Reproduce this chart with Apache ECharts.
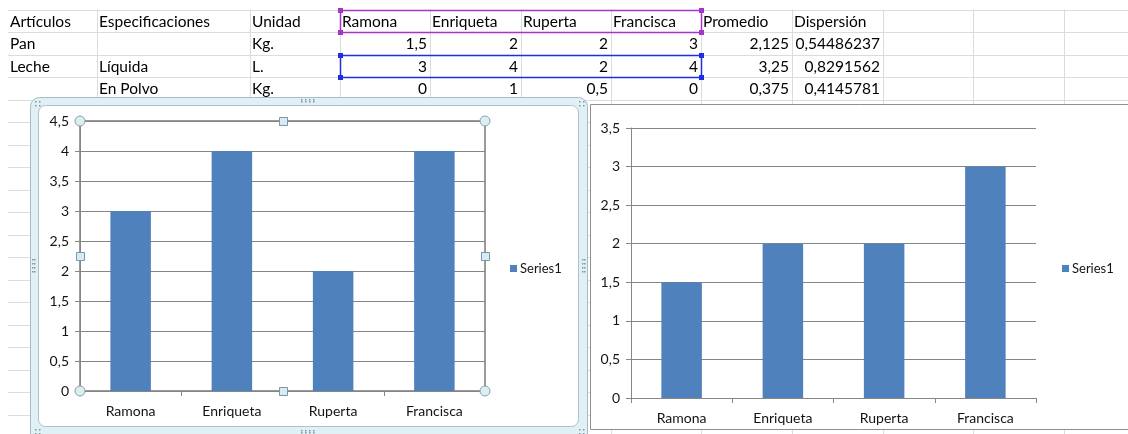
<!DOCTYPE html>
<html>
<head>
<meta charset="utf-8">
<script src="https://cdn.jsdelivr.net/npm/echarts@6/dist/echarts.min.js"></script>
<style>
  html, body { margin: 0; padding: 0; background: #ffffff; }
  #c { width: 1128px; height: 434px; }
</style>
</head>
<body>
<div id="c"></div>
<script>
// ---- Sheet contents ----
const headers = ['Artículos', 'Especificaciones', 'Unidad', 'Ramona', 'Enriqueta', 'Ruperta', 'Francisca', 'Promedio', 'Dispersión'];
const articulos = ['Pan', 'Leche', ''];
const especificaciones = ['', 'Líquida', 'En Polvo'];
const unidades = ['Kg.', 'L.', 'Kg.'];
const personas = ['Ramona', 'Enriqueta', 'Ruperta', 'Francisca'];
const panValues = [1.5, 2, 2, 3];
const lecheLiquidaValues = [3, 4, 2, 4];
const lechePolvoValues = [0, 1, 0.5, 0];
const promedio = [2.125, 3.25, 0.375];
const dispersion = [0.54486237, 0.8291562, 0.4145781];
const seriesName = 'Series1';
const leftAxisMax = 4.5;
const rightAxisMax = 3.5;
const axisStep = 0.5;

// ---- Layout ----
const W = 1128, H = 434;
const colX = [8, 97, 250, 340, 430, 521, 611, 701, 792, 883, 973, 1064, 1155];
const rowY0 = 9.5, rowH = 22.5;
const gridL = { left: 80, top: 121, width: 405, height: 270 };
const gridR = { left: 631, top: 128, width: 405, height: 270 };

const BAR = '#4f81bd';
const SHEET_LINE = '#dadcdd';
const CELL_FONT = '15.5px Lato';
const CHART_FONT = 'Lato';
const fmt = v => String(v).replace('.', ',');

const g = [];

// spreadsheet gridlines
for (let y = rowY0; y < H + rowH; y += rowH) {
  g.push({ type: 'line', z: -5, silent: true,
    shape: { x1: colX[0], y1: Math.round(y) + 0.5, x2: W, y2: Math.round(y) + 0.5 },
    style: { stroke: SHEET_LINE, lineWidth: 1 } });
}
for (let i = 1; i < colX.length; i++) {
  g.push({ type: 'line', z: -5, silent: true,
    shape: { x1: colX[i] + 0.5, y1: rowY0, x2: colX[i] + 0.5, y2: H },
    style: { stroke: SHEET_LINE, lineWidth: 1 } });
}

function cellText(text, col, row, align) {
  const yc = rowY0 + rowH * row + rowH / 2 + 1;
  const x = align === 'right' ? colX[col + 1] - 3 : colX[col] + 2;
  g.push({ type: 'text', z: -4, silent: true, x: x, y: yc,
    style: { text: text, font: CELL_FONT, fill: '#000000',
      textAlign: align, align: align, textVerticalAlign: 'middle', verticalAlign: 'middle' } });
}
headers.forEach((h, i) => cellText(h, i, 0, 'left'));
const valueRows = [panValues, lecheLiquidaValues, lechePolvoValues];
for (let r = 0; r < 3; r++) {
  if (articulos[r]) cellText(articulos[r], 0, r + 1, 'left');
  if (especificaciones[r]) cellText(especificaciones[r], 1, r + 1, 'left');
  cellText(unidades[r], 2, r + 1, 'left');
  valueRows[r].forEach((v, i) => cellText(fmt(v), 3 + i, r + 1, 'right'));
  cellText(fmt(promedio[r]), 7, r + 1, 'right');
  cellText(fmt(dispersion[r]), 8, r + 1, 'right');
}

// range outlines on the sheet (header row and the charted row)
function rangeBox(row, color) {
  const x1 = colX[3] + 0.5, x2 = colX[7] + 0.5;
  const y1 = Math.round(rowY0 + rowH * row) + 0.5, y2 = Math.round(rowY0 + rowH * (row + 1)) + 0.5;
  g.push({ type: 'rect', z: -4, silent: true, shape: { x: x1, y: y1, width: x2 - x1, height: y2 - y1 },
    style: { fill: 'none', stroke: color, lineWidth: 1.5 } });
  [[x1, y1], [x2, y1], [x1, y2], [x2, y2]].forEach(p => {
    g.push({ type: 'rect', z: -4, silent: true, shape: { x: p[0] - 2.5, y: p[1] - 2.5, width: 5, height: 5 },
      style: { fill: color } });
  });
}
rangeBox(0, '#a535c6');
rangeBox(2, '#1f2ee0');

// right chart panel
g.push({ type: 'rect', z: -3, silent: true, shape: { x: 590.5, y: 104.5, width: 600, height: 325 },
  style: { fill: '#ffffff', stroke: '#8f8f8f', lineWidth: 1 } });

// left chart panel with its selection frame
g.push({ type: 'rect', z: -3, silent: true, shape: { x: 30.5, y: 97.5, width: 557, height: 360, r: 9 },
  style: { fill: '#e1f0f5', stroke: '#a3bcc6', lineWidth: 1 } });
g.push({ type: 'rect', z: -2, silent: true, shape: { x: 38.5, y: 105.5, width: 540, height: 321, r: 7 },
  style: { fill: '#ffffff', stroke: '#a9c2cb', lineWidth: 1 } });

function dots(x0, y0, nx, ny, dx, dy) {
  for (let i = 0; i < nx; i++) for (let j = 0; j < ny; j++) {
    g.push({ type: 'rect', z: -1, silent: true, shape: { x: x0 + i * dx, y: y0 + j * dy, width: 1.5, height: 1.5 },
      style: { fill: '#7f98a3' } });
  }
}
dots(301, 99, 4, 2, 4, 2);
dots(301, 430, 4, 2, 4, 2);
dots(32, 259, 2, 4, 2, 4);
dots(582, 259, 2, 4, 2, 4);
dots(35, 101, 2, 2, 4, 4);
dots(579, 101, 2, 2, 4, 4);
dots(35, 429, 2, 2, 4, 4);
dots(579, 429, 2, 2, 4, 4);

// plot-area selection handles on the left chart
const pl = gridL.left, pr = gridL.left + gridL.width, pt = gridL.top, pb = gridL.top + gridL.height;
const pmx = (pl + pr) / 2, pmy = (pt + pb) / 2;
[[pl, pt], [pr, pt], [pl, pb], [pr, pb]].forEach(p => {
  g.push({ type: 'circle', z: 20, silent: true, shape: { cx: p[0], cy: p[1], r: 5 },
    style: { fill: '#dcedf3', stroke: '#8aa1ab', lineWidth: 1 } });
});
[[pmx, pt], [pmx, pb], [pl, pmy], [pr, pmy]].forEach(p => {
  g.push({ type: 'rect', z: 20, silent: true, shape: { x: Math.round(p[0]) - 3.5, y: Math.round(p[1]) - 3.5, width: 8, height: 8 },
    style: { fill: '#d7ebf4', stroke: '#7b98a6', lineWidth: 1 } });
});

const axisText = { color: '#141414', fontFamily: CHART_FONT, fontSize: 14 };

function valueAxis(idx, max) {
  return {
    type: 'value', gridIndex: idx, min: 0, max: max, interval: axisStep,
    axisLine: { show: true, lineStyle: { color: '#868686', width: 1 } },
    axisTick: { show: true, length: 5, lineStyle: { color: '#868686' } },
    axisLabel: Object.assign({ margin: 11, formatter: v => fmt(v) }, axisText),
    splitLine: { show: true, lineStyle: { color: '#858585', width: 1 } }
  };
}
function catAxis(idx) {
  return {
    type: 'category', gridIndex: idx, data: personas,
    axisLine: { show: true, lineStyle: { color: '#868686', width: 1 } },
    axisTick: { show: true, length: 5, lineStyle: { color: '#868686' } },
    axisLabel: Object.assign({ margin: 13 }, axisText),
    splitLine: { show: false }
  };
}
function legendAt(left) {
  return {
    data: [seriesName], left: left, top: 257, orient: 'vertical',
    icon: 'rect', itemWidth: 7, itemHeight: 7, itemGap: 4,
    selectedMode: false,
    textStyle: { color: '#141414', fontFamily: CHART_FONT, fontSize: 13, padding: [0, 0, 0, -2] }
  };
}

const chart = echarts.init(document.getElementById('c'), null, { renderer: 'canvas' });
chart.setOption({
  animation: false,
  backgroundColor: '#ffffff',
  grid: [
    Object.assign({ show: true, borderColor: '#7a7a7a', borderWidth: 1.5, backgroundColor: 'transparent', containLabel: false }, gridL),
    Object.assign({ containLabel: false }, gridR)
  ],
  xAxis: [catAxis(0), catAxis(1)],
  yAxis: [valueAxis(0, leftAxisMax), valueAxis(1, rightAxisMax)],
  legend: [legendAt(505), legendAt(1057)],
  series: [
    { type: 'bar', name: seriesName, xAxisIndex: 0, yAxisIndex: 0, data: lecheLiquidaValues,
      barWidth: '40%', itemStyle: { color: BAR } },
    { type: 'bar', name: seriesName, xAxisIndex: 1, yAxisIndex: 1, data: panValues,
      barWidth: '40%', itemStyle: { color: BAR } }
  ],
  graphic: { elements: g }
});
</script>
</body>
</html>
